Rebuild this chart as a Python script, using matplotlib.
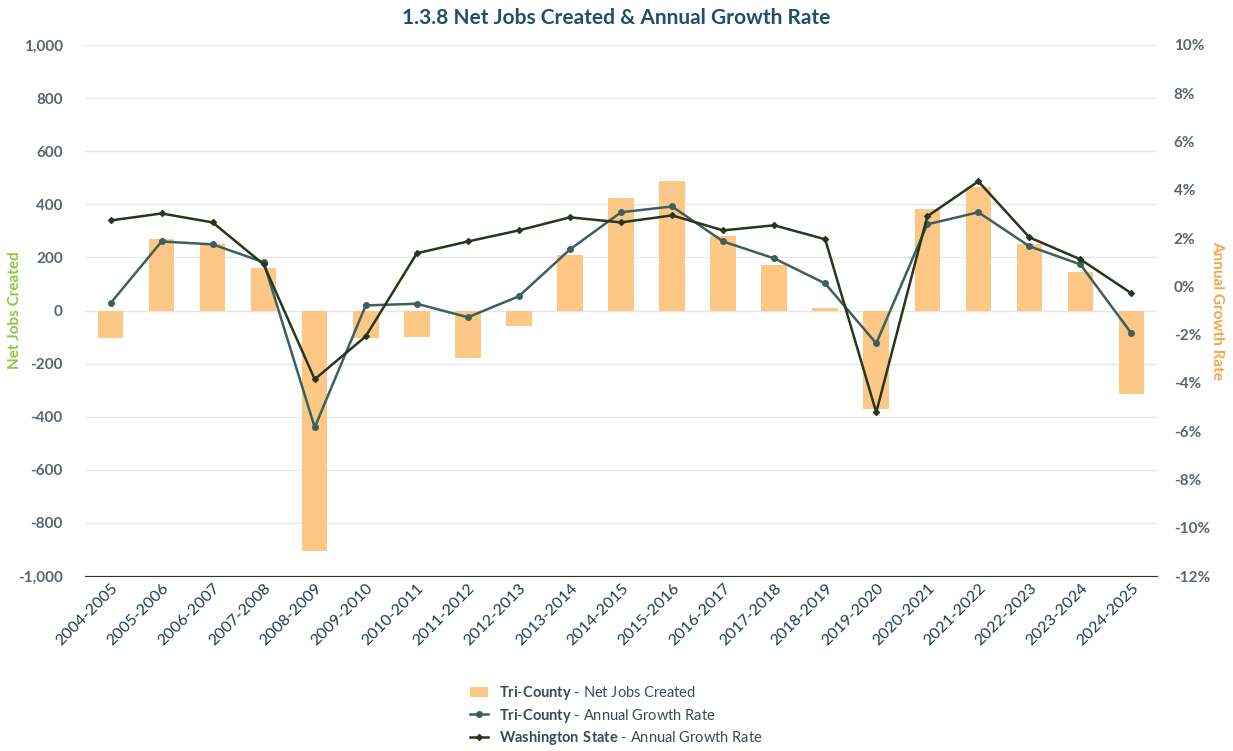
import matplotlib.pyplot as plt
from matplotlib.ticker import FuncFormatter

plt.rcParams['font.family'] = ['Lato', 'DejaVu Sans']
plt.rcParams['mathtext.fontset'] = 'custom'
plt.rcParams['mathtext.bf'] = 'Lato:bold'
plt.rcParams['mathtext.rm'] = 'Lato'

years = ['2004-2005', '2005-2006', '2006-2007', '2007-2008', '2008-2009', '2009-2010',
         '2010-2011', '2011-2012', '2012-2013', '2013-2014', '2014-2015', '2015-2016',
         '2016-2017', '2017-2018', '2018-2019', '2019-2020', '2020-2021', '2021-2022',
         '2022-2023', '2023-2024', '2024-2025']
net_jobs = [-102, 270, 250, 160, -905, -104, -100, -180, -58, 209, 424, 488,
            281, 171, 8, -371, 382, 466, 250, 145, -315]
tri_growth = [-0.7, 1.86, 1.74, 1.0, -5.84, -0.79, -0.72, -1.28, -0.41, 1.53, 3.07, 3.31,
              1.86, 1.16, 0.12, -2.36, 2.57, 3.07, 1.66, 0.91, -1.95]
wa_growth = [2.73, 3.02, 2.65, 0.91, -3.85, -2.07, 1.37, 1.86, 2.32, 2.86, 2.65, 2.94,
             2.32, 2.53, 1.95, -5.22, 2.9, 4.35, 2.03, 1.12, -0.29]

fig = plt.figure(figsize=(12.33, 7.51), dpi=100)
ax = fig.add_axes([85 / 1233, 1 - 576 / 751, 1072 / 1233, 531 / 751])
ax2 = ax.twinx()

x = range(len(years))
bars = ax.bar(x, net_jobs, width=0.5, color='#fdc886', zorder=2)
l1, = ax2.plot(x, tri_growth, color='#3d5f5e', marker='o', markersize=4, linewidth=1.8, zorder=3)
l2, = ax2.plot(x, wa_growth, color='#27361c', marker='D', markersize=3, linewidth=1.8, zorder=4)

ax.set_ylim(-1000, 1000)
ax.set_yticks(range(-1000, 1001, 200))
ax.yaxis.set_major_formatter(FuncFormatter(lambda v, p: f'{int(v):,}'))
ax2.set_ylim(-12, 10)
ax2.set_yticks(range(-12, 11, 2))
ax2.yaxis.set_major_formatter(FuncFormatter(lambda v, p: f'{int(v)}%'))
ax.set_xlim(-0.5, len(years) - 0.5)
ax.set_xticks(list(x))
ax.set_xticklabels(years, rotation=45, ha='right', rotation_mode='anchor')

ax.grid(axis='y', color='#e6e6e6', linewidth=1, zorder=0)
for a in (ax, ax2):
    for s in ['top', 'left', 'right']:
        a.spines[s].set_visible(False)
    a.tick_params(length=0, colors='#5a6570', labelsize=11)
ax.spines['bottom'].set_visible(False)
ax2.spines['bottom'].set_color('#333333')
for lbl in ax.get_yticklabels() + ax2.get_yticklabels():
    lbl.set_fontweight('bold')
ax.tick_params(axis='y', pad=16)
ax2.tick_params(axis='y', pad=12)
ax.tick_params(axis='x', colors='#1d3a52', labelsize=11.5)

fig.text(15 / 1233, 1 - 310 / 751, 'Net Jobs Created', color='#8dc63f', fontweight='bold',
         fontsize=11, rotation=90, ha='center', va='center')
fig.text(1217 / 1233, 1 - 310 / 751, 'Annual Growth Rate', color='#f5a54a', fontweight='bold',
         fontsize=11, rotation=270, ha='center', va='center')
fig.suptitle('1.3.8 Net Jobs Created & Annual Growth Rate', x=0.5, y=0.99,
             color='#1f4e6e', fontweight='bold', fontsize=15)

fig.legend([bars, l1, l2],
           [r'$\mathbf{Tri}$-$\mathbf{County}$ - Net Jobs Created',
            r'$\mathbf{Tri}$-$\mathbf{County}$ - Annual Growth Rate',
            r'$\mathbf{Washington\ State}$ - Annual Growth Rate'],
           loc='lower center', bbox_to_anchor=(0.5, -0.012), frameon=False, fontsize=10.5,
           labelcolor='#3a4a5a', handlelength=1.2, labelspacing=0.3)

fig.savefig('out.png', dpi=100)
